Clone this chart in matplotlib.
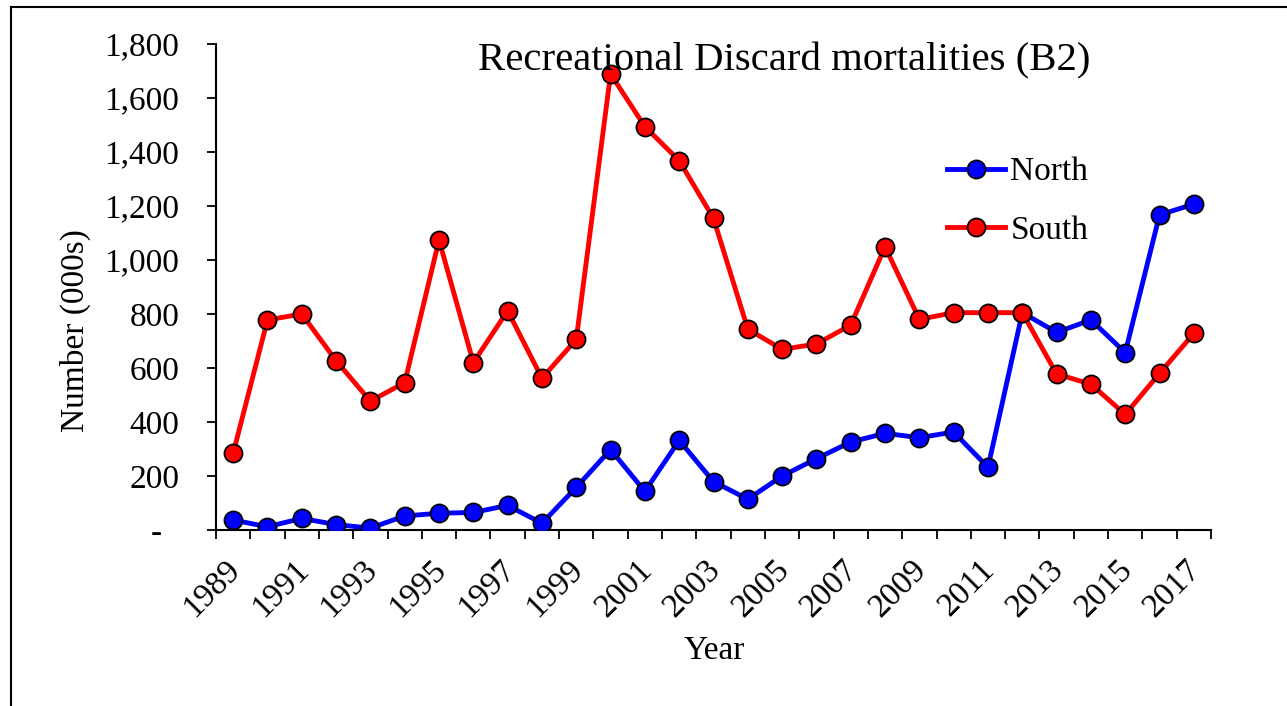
import matplotlib
matplotlib.use("Agg")
import matplotlib.pyplot as plt
from matplotlib.lines import Line2D

plt.rcParams['font.family'] = ['Liberation Serif', 'DejaVu Serif']

years = list(range(1989, 2018))
north = [37, 12, 43, 20, 7, 52, 62, 65, 91, 25, 158, 298, 143, 332, 179,
         114, 200, 264, 326, 358, 342, 363, 232, 805, 732, 778, 657, 1167, 1207]
south = [284, 778, 800, 627, 477, 546, 1074, 620, 812, 562, 706, 1689, 1494, 1368, 1154,
         744, 669, 689, 759, 1049, 780, 805, 805, 805, 578, 540, 428, 580, 728]
y_ticks = [0, 200, 400, 600, 800, 1000, 1200, 1400, 1600, 1800]
y_labels = ['-  '] + [f"{v:,}" for v in y_ticks[1:]]

W, H = 1287, 706
fig = plt.figure(figsize=(W / 100, H / 100), dpi=100)
ax = fig.add_axes([216 / W, 1 - 530 / H, (1211 - 216) / W, (530 - 44) / H])

x = list(range(len(years)))
for vals, col, name in [(north, '#0000FF', 'North'), (south, '#FF0000', 'South')]:
    ax.plot(x, vals, color=col, lw=3.5, marker='o', ms=13, mfc=col,
            mec='black', mew=1.3, label=name, zorder=3)

ax.set_xlim(-0.5, len(years) - 0.5)
ax.set_ylim(0, 1800)
ax.set_yticks(y_ticks)
ax.set_yticklabels(y_labels, fontsize=24)
ax.tick_params(axis='y', length=6.5, width=1.3, pad=20)

# labels on every other year, tick marks between categories
ax.set_xticks([i + 0.07 for i in x[::2]])
ax.set_xticklabels([str(y) for y in years[::2]], fontsize=24, rotation=45,
                   ha='right', va='center', rotation_mode='anchor')
ax.tick_params(axis='x', which='major', length=0, pad=25)
ax.set_xticks([i - 0.5 for i in range(len(years) + 1)], minor=True)
ax.tick_params(axis='x', which='minor', length=6.5, width=1.3)

for s in ['top', 'right']:
    ax.spines[s].set_visible(False)
for s in ['left', 'bottom']:
    ax.spines[s].set_linewidth(1.5)

fig.text(75 / W, 1 - 331 / H, 'Number (000s)', fontsize=24, rotation=90,
         ha='center', va='center')
fig.text(714 / W, 1 - 651 / H, 'Year', fontsize=24, ha='center', va='center')
fig.text(784 / W, 1 - 61 / H, 'Recreational Discard mortalities (B2)',
         fontsize=29.3, ha='center', va='center')

ax.legend(loc='upper left', bbox_to_anchor=((947 - 216) / 995, (530 - 157) / 486),
          frameon=False, fontsize=24, handlelength=1.75, handletextpad=0.15,
          labelspacing=0.84, borderpad=0, borderaxespad=0)

# outer frame of the chart area
fig.add_artist(Line2D([11 / W, 11 / W], [0, 1 - 7 / H], color='black', lw=1.5))
fig.add_artist(Line2D([11 / W, 1], [1 - 7 / H, 1 - 7 / H], color='black', lw=1.5))

fig.savefig('out.png', dpi=100)
